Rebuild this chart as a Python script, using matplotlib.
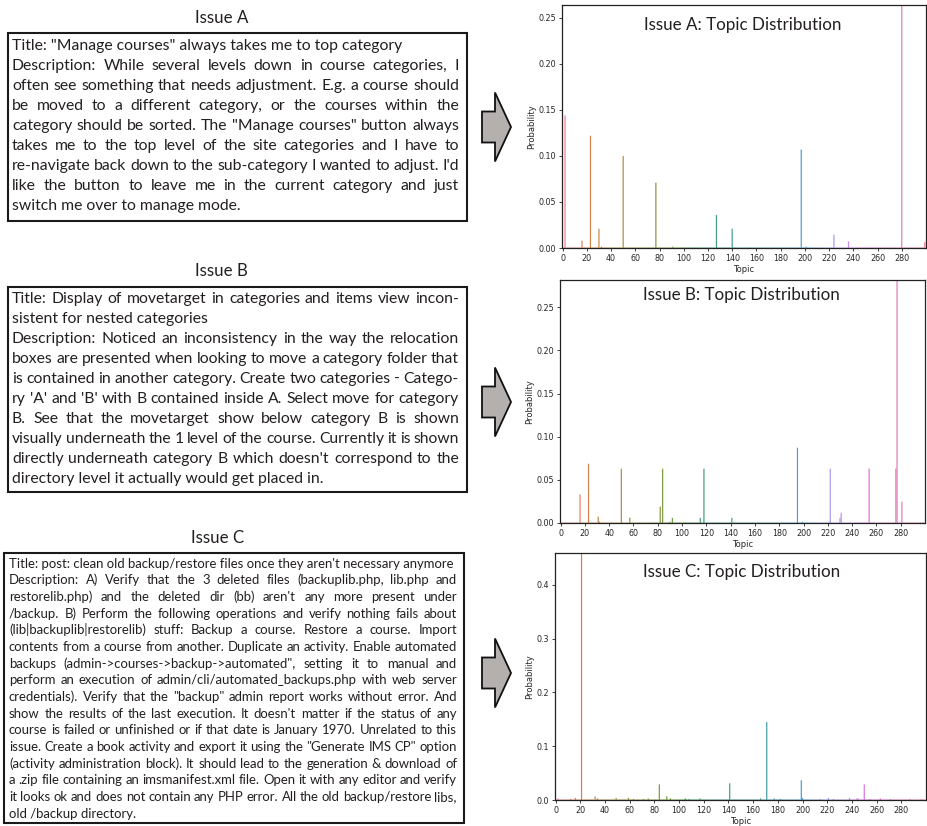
import matplotlib
matplotlib.use('Agg')
import matplotlib.pyplot as plt
import numpy as np
import seaborn as sns
from matplotlib.patches import Rectangle, Polygon

W, H = 927, 826
N_TOPICS = 300
FONT = 'Lato'
TXT = '#231f20'

# ---------------- data ----------------
topics_a = [2, 16, 23, 30, 32, 50, 77, 91, 127, 140, 197, 201, 224, 236, 280, 299]
probs_a = [0.144, 0.008, 0.122, 0.021, 0.0015, 0.100, 0.071, 0.0015, 0.036, 0.021,
           0.107, 0.0015, 0.0145, 0.0072, 0.300, 0.0065]
base_a = 0.0005

topics_b = [16, 23, 31, 32, 50, 57, 82, 84, 90, 92, 115, 118, 141, 195, 199, 221,
            222, 230, 231, 254, 276, 277, 281]
probs_b = [0.033, 0.0687, 0.0073, 0.0015, 0.063, 0.0062, 0.019, 0.063, 0.0015, 0.006,
           0.006, 0.063, 0.006, 0.0872, 0.0015, 0.0015, 0.063, 0.006, 0.012, 0.063,
           0.063, 0.300, 0.0247]
base_b = 0.0005

topics_c = [2, 12, 16, 21, 32, 34, 49, 59, 63, 71, 75, 84, 90, 93, 105, 108, 117,
            141, 166, 171, 177, 182, 199, 200, 214, 221, 225, 238, 244, 245, 250,
            254, 263, 271, 287, 296]
probs_c = [0.003, 0.002, 0.004, 0.480, 0.0068, 0.003, 0.004, 0.004, 0.002, 0.002,
           0.003, 0.029, 0.007, 0.003, 0.003, 0.002, 0.003, 0.031, 0.003, 0.1447,
           0.003, 0.002, 0.0366, 0.004, 0.002, 0.004, 0.002, 0.004, 0.003, 0.003,
           0.029, 0.002, 0.003, 0.002, 0.002, 0.002]
base_c = 0.0009

x_ticks = list(range(0, 300, 20))

issue_a_lines = [
    'Title: "Manage courses" always takes me to top category',
    'Description: While several levels down in course categories, I',
    'often see something that needs adjustment. E.g. a course should',
    'be moved to a different category, or the courses within the',
    'category should be sorted. The "Manage courses" button always',
    'takes me to the top level of the site categories and I have to',
    "re-navigate back down to the sub-category I wanted to adjust. I'd",
    'like the button to leave me in the current category and just',
    'switch me over to manage mode.',
]
issue_a_just = [False, True, True, True, True, True, True, True, False]

issue_b_lines = [
    'Title: Display of movetarget in categories and items view incon-',
    'sistent for nested categories',
    'Description: Noticed an inconsistency in the way the relocation',
    'boxes are presented when looking to move a category folder that',
    'is contained in another category. Create two categories - Catego-',
    "ry 'A' and 'B' with B contained inside A. Select move for category",
    'B. See that the movetarget show below category B is shown',
    'visually underneath the 1 level of the course. Currently it is shown',
    "directly underneath category B which doesn't correspond to the",
    'directory level it actually would get placed in.',
]
issue_b_just = [True, False, True, True, True, True, True, True, True, False]

issue_c_lines = [
    "Title: post: clean old backup/restore files once they aren't necessary anymore",
    'Description: A) Verify that the 3 deleted files (backuplib.php, lib.php and',
    "restorelib.php) and the deleted dir (bb) aren't any more present under",
    '/backup. B) Perform the following operations and verify nothing fails about',
    '(lib|backuplib|restorelib) stuff: Backup a course. Restore a course. Import',
    'contents from a course from another. Duplicate an activity. Enable automated',
    'backups (admin->courses->backup->automated", setting it to manual and',
    'perform an execution of admin/cli/automated_backups.php with web server',
    'credentials). Verify that the "backup" admin report works without error. And',
    "show the results of the last execution. It doesn't matter if the status of any",
    'course is failed or unfinished or if that date is January 1970. Unrelated to this',
    'issue. Create a book activity and export it using the "Generate IMS CP" option',
    '(activity administration block). It should lead to the generation & download of',
    'a .zip file containing an imsmanifest.xml file. Open it with any editor and verify',
    'it looks ok and does not contain any PHP error. All the old backup/restore libs,',
    'old /backup directory.',
]
issue_c_just = [False] + [True] * 14 + [False]

# ---------------- figure ----------------
fig = plt.figure(figsize=(W / 100, H / 100), dpi=100)
bg = fig.add_axes([0, 0, 1, 1])
bg.set_xlim(0, W)
bg.set_ylim(H, 0)
bg.axis('off')
renderer = fig.canvas.get_renderer()


def text_width(s, size):
    t = bg.text(0, 0, s, fontsize=size, family=FONT)
    w = t.get_window_extent(renderer).width
    t.remove()
    return w


def fit_size(samples):
    ratios = [target / text_width(s, 10) for s, target in samples]
    return 10 * float(np.mean(ratios))


def draw_block(lines, justify, x0, x1, y0, step, size):
    for i, (line, j) in enumerate(zip(lines, justify)):
        y = y0 + i * step
        if not j:
            bg.text(x0, y, line, fontsize=size, family=FONT, va='baseline',
                    ha='left', color=TXT)
            continue
        words = line.split(' ')
        lsize = size
        widths = [text_width(w, lsize) for w in words]
        min_gap = 0.2 * lsize * 100 / 72
        need = sum(widths) + min_gap * (len(words) - 1)
        if need > (x1 - x0):
            lsize = size * (x1 - x0) / need
            widths = [text_width(w, lsize) for w in words]
        gap = (x1 - x0 - sum(widths)) / (len(words) - 1)
        x = x0
        for wd_s, wd in zip(words, widths):
            bg.text(x, y, wd_s, fontsize=lsize, family=FONT, va='baseline',
                    ha='left', color=TXT)
            x += wd + gap


def draw_arrow(cy):
    pts = [(482, cy - 15.5), (495, cy - 15.5), (495, cy - 34.5), (511, cy),
           (495, cy + 34.5), (495, cy + 15.5), (482, cy + 15.5)]
    bg.add_patch(Polygon(pts, closed=True, facecolor='#b4b0ae',
                         edgecolor='#111111', lw=1.3, joinstyle='miter'))


# headings
head_size = fit_size([('Issue A', 53)])
for label, cx, by in [('Issue A', 221.5, 23), ('Issue B', 221, 276), ('Issue C', 218, 543)]:
    bg.text(cx, by, label, fontsize=head_size, family=FONT, ha='center',
            va='baseline', color=TXT)

# boxes
for (x0, y0, x1, y1) in [(8, 33, 467, 221), (8, 287, 467, 492), (4, 553, 464, 823)]:
    bg.add_patch(Rectangle((x0, y0), x1 - x0, y1 - y0, fill=False,
                           edgecolor='#1a1a1a', lw=1.5))

size_a = fit_size([(issue_a_lines[0], 388), (issue_a_lines[-1], 232)])
size_b = fit_size([(issue_b_lines[1], 195), (issue_b_lines[-1], 312)])
size_c = fit_size([(issue_c_lines[0], 444), (issue_c_lines[-1], 128)])

draw_block(issue_a_lines, issue_a_just, 12, 459, 50, 20, size_a)
draw_block(issue_b_lines, issue_b_just, 12, 459, 303, 20, size_b)
draw_block(issue_c_lines, issue_c_just, 9, 457, 567.7, 16.67, size_c)

for cy in (127, 402, 673):
    draw_arrow(cy)

# ---------------- charts ----------------
palette = [sns.desaturate(c, 0.75) for c in sns.husl_palette(N_TOPICS)]


def build(topics, probs, base):
    p = np.full(N_TOPICS, base)
    p[np.array(topics)] = probs
    return p


title_size = fit_size([('Issue A: Topic Distribution', 198)])

charts = [
    (build(topics_a, probs_a, base_a), (562, 5, 926, 248), 0.264,
     np.arange(0, 0.26, 0.05), '%.2f', 'Issue A: Topic Distribution', (743, 30)),
    (build(topics_b, probs_b, base_b), (560, 280, 925, 523), 0.2816,
     np.arange(0, 0.26, 0.05), '%.2f', 'Issue B: Topic Distribution', (741, 300)),
    (build(topics_c, probs_c, base_c), (555, 553, 926, 800), 0.459,
     np.arange(0, 0.41, 0.1), '%.1f', 'Issue C: Topic Distribution', (742, 577)),
]

for probs, (l, t, r, b), ytop, yt, fmt, title, (tx, ty) in charts:
    ax = fig.add_axes([l / W, 1 - b / H, (r - l) / W, (b - t) / H])
    bars = ax.bar(np.arange(N_TOPICS), probs, width=1.0, color=palette, linewidth=0)
    for p in bars:
        p.set_snap(False)
    ax.set_xlim(-0.5, 300)
    ax.set_ylim(0, ytop)
    ax.set_xticks(x_ticks)
    ax.set_yticks(yt)
    ax.set_yticklabels([fmt % v for v in yt])
    ax.tick_params(labelsize=5.8, labelcolor='#262626', length=2.5, width=0.6,
                   color='#222222', pad=1.5)
    for s in ax.spines.values():
        s.set_color('#222222')
        s.set_linewidth(0.9)
    ax.set_xlabel('Topic', fontsize=6, color='#262626', labelpad=1.5)
    ax.set_ylabel('Probability', fontsize=6, color='#262626', labelpad=2)
    fig.text(tx / W, 1 - ty / H, title, fontsize=title_size, family=FONT,
             ha='center', va='baseline', color=TXT)

fig.savefig('out.png', dpi=100)
